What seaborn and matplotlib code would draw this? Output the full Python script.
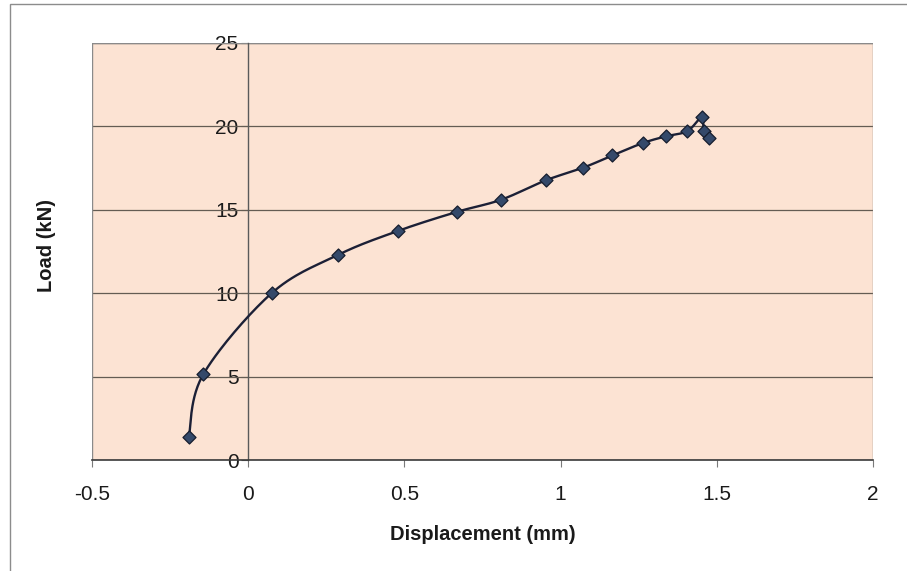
import numpy as np
import pandas as pd
import seaborn as sns
import matplotlib
matplotlib.use("Agg")
import matplotlib.pyplot as plt
from matplotlib.patches import Rectangle

# Load-displacement readings
displacement_mm = [-0.190, -0.144, 0.075, 0.288, 0.479, 0.667, 0.809, 0.953,
                   1.073, 1.166, 1.263, 1.336, 1.406, 1.452, 1.458, 1.476]
load_kn = [1.40, 5.13, 10.00, 12.30, 13.73, 14.87, 15.60, 16.77,
           17.53, 18.26, 19.00, 19.40, 19.72, 20.56, 19.72, 19.30]

x_ticks = [-0.5, 0, 0.5, 1, 1.5, 2]
x_tick_labels = ["-0.5", "0", "0.5", "1", "1.5", "2"]
y_ticks = [0, 5, 10, 15, 20, 25]
y_tick_labels = ["0", "5", "10", "15", "20", "25"]

X_MIN, X_MAX = -0.5, 2.0
Y_MIN, Y_MAX = 0, 25


def smooth_curve(xs, ys, sx, sy, n=30):
    """Catmull-Rom spline through the points, computed in screen-like units."""
    p = np.column_stack([np.asarray(xs) * sx, np.asarray(ys) * sy])
    p = np.vstack([p[0], p, p[-1]])
    out = []
    for i in range(1, len(p) - 2):
        p0, p1, p2, p3 = p[i - 1], p[i], p[i + 1], p[i + 2]
        t = np.linspace(0, 1, n, endpoint=False)[:, None]
        seg = 0.5 * ((2 * p1) + (-p0 + p2) * t
                     + (2 * p0 - 5 * p1 + 4 * p2 - p3) * t ** 2
                     + (-p0 + 3 * p1 - 3 * p2 + p3) * t ** 3)
        out.append(seg)
    out.append(p[-2][None, :])
    out = np.vstack(out)
    return out[:, 0] / sx, out[:, 1] / sy


sns.set_theme(style="white")
plt.rcParams["font.family"] = ["Liberation Sans", "DejaVu Sans"]

fig = plt.figure(figsize=(9.07, 5.71), dpi=100)
fig.patch.set_facecolor("white")
ax = fig.add_axes([92 / 907, 1 - 460 / 571, 781 / 907, 417 / 571])
ax.set_facecolor("#FCE3D3")

# outer chart border
fig.patches.append(Rectangle((10 / 907, -0.02), 1.2, (571 - 4) / 571 + 0.02,
                             transform=fig.transFigure, fill=False,
                             edgecolor="#8c8c8c", linewidth=1.0, zorder=0))

# horizontal gridlines
for yv in y_ticks[1:]:
    ax.axhline(yv, color="#645c53", linewidth=0.9, zorder=1)

# plot-area frame
ax.add_patch(Rectangle((0, 0), 1, 1, transform=ax.transAxes, fill=False,
                       edgecolor="#8a8a8a", linewidth=1.0, zorder=1))

sx = 781 / (X_MAX - X_MIN)
sy = 417 / (Y_MAX - Y_MIN)
cx, cy = smooth_curve(displacement_mm, load_kn, sx, sy)
curve = pd.DataFrame({"Displacement (mm)": cx, "Load (kN)": cy})
points = pd.DataFrame({"Displacement (mm)": displacement_mm, "Load (kN)": load_kn})

sns.lineplot(data=curve, x="Displacement (mm)", y="Load (kN)", sort=False,
             estimator=None, color="#1c2036", linewidth=1.7, ax=ax, zorder=3)
sns.scatterplot(data=points, x="Displacement (mm)", y="Load (kN)", marker="D",
                s=44, color="#34496a", edgecolor="#161e2e", linewidth=0.9,
                ax=ax, zorder=4)

ax.set_xlim(X_MIN, X_MAX)
ax.set_ylim(Y_MIN, Y_MAX)

# value axis crosses the category axis at x = 0
for side in ["top", "right"]:
    ax.spines[side].set_visible(False)
ax.spines["left"].set_position(("data", 0))
ax.spines["left"].set_color("#5a5a5a")
ax.spines["left"].set_linewidth(1.0)
ax.spines["left"].set_zorder(2)
ax.spines["bottom"].set_color("#3a3a3a")
ax.spines["bottom"].set_linewidth(1.2)

ax.set_xticks(x_ticks)
ax.set_xticklabels(x_tick_labels)
ax.set_yticks(y_ticks)
ax.set_yticklabels(y_tick_labels)
ax.tick_params(axis="x", direction="out", length=5, width=0.8, color="#7a7a7a",
               pad=13, labelsize=15, labelcolor="#1a1a1a", bottom=True)
ax.tick_params(axis="y", direction="out", length=5, width=0.8, color="#5a5a5a",
               pad=2, labelsize=15, labelcolor="#1a1a1a", left=True)
ax.grid(False)

ax.set_xlabel("Displacement (mm)", fontsize=14.5, fontweight="bold",
              color="#1a1a1a", labelpad=15)
ax.set_ylabel("")
fig.text(47 / 907, 1 - 246 / 571, "Load (kN)", rotation=90, fontsize=14.5,
         fontweight="bold", color="#1a1a1a", ha="center", va="center")

fig.savefig("out.png", dpi=100, facecolor="white")
